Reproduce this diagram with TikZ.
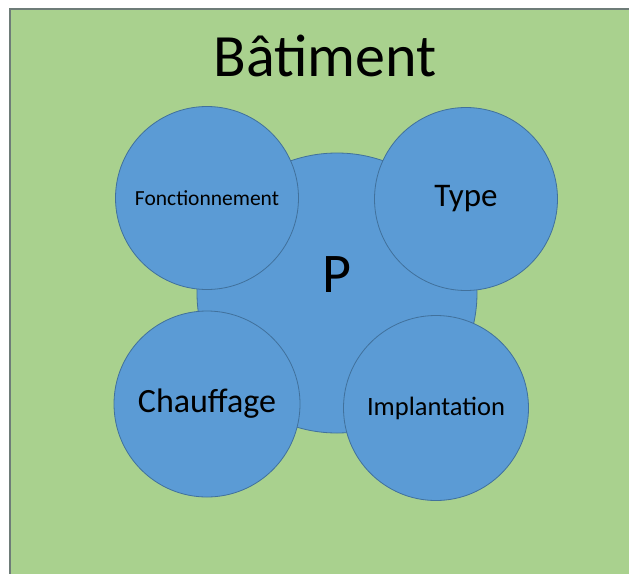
\documentclass[tikz,border=0pt]{standalone}
\usepackage{fontspec}
\setmainfont{Carlito}
\usepackage{xcolor}
\definecolor{fondvert}{HTML}{A9D18E}
\definecolor{bulle}{HTML}{5B9BD5}
\definecolor{bullebord}{HTML}{41719C}
\definecolor{cadre}{HTML}{6E7C78}
\begin{document}
\begin{tikzpicture}
            [x=1pt, y=-1pt,
            bulle/.style={circle, draw=bullebord, line width=0.8pt, fill=bulle, align=center, text=black, inner sep=0pt},
            petite/.style={bulle, minimum size=183pt}]

            \useasboundingbox[fill=white] (0,0) rectangle (629,573);
            \fill[fondvert, draw=cadre, line width=1.5pt] (10,9) rectangle (640,590);

            \node (titre) at (325,56) {\fontsize{60}{64}\selectfont Bâtiment};

            \node[bulle, minimum size=280pt] (p) at (337,293) {\fontsize{56}{60}\selectfont\raisebox{1pt}[0pt][0pt]{P}};

            \node[petite] (fonct) at (207,198) {\fontsize{21.5}{24}\selectfont Fonctionnement};
            \node[petite] (type) at (466,199) {\fontsize{33}{36}\selectfont Type};
            \node[petite, minimum size=186pt] (chauf) at (207,404) {\fontsize{34}{38}\selectfont Chauffage};
            \node[petite, minimum size=185pt] (impl) at (436,408) {\fontsize{26.5}{30}\selectfont Implantation};
        \end{tikzpicture}
\end{document}
